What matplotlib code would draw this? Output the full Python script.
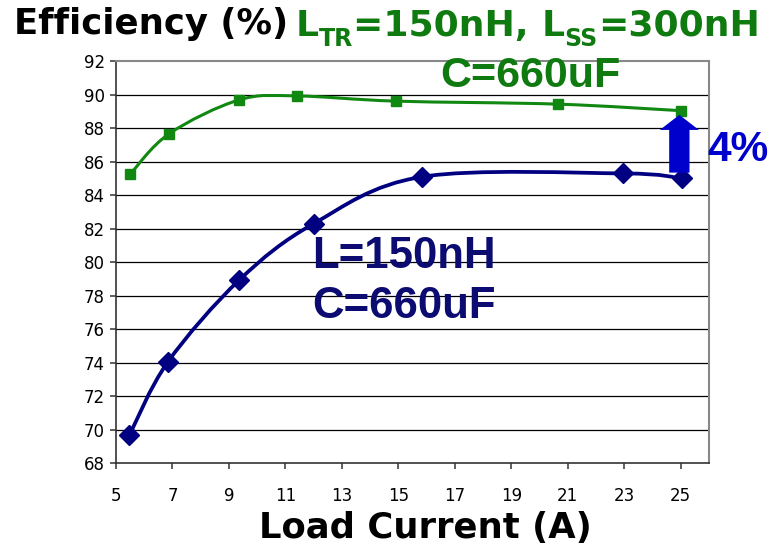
import numpy as np
import matplotlib
matplotlib.use("Agg")
import matplotlib.pyplot as plt
from matplotlib.path import Path
from matplotlib.patches import PathPatch, FancyArrow

# Efficiency vs load current
load_tr = [5.5, 6.88, 9.37, 11.42, 14.9, 20.66, 25.0]
eff_tr = [85.25, 87.67, 89.7, 89.93, 89.62, 89.44, 89.05]

load_base = [5.47, 6.83, 9.37, 12.0, 15.84, 22.97, 25.04]
eff_base = [69.65, 74.02, 78.94, 82.3, 85.1, 85.3, 85.0]

x_ticks = list(range(5, 26, 2))
y_ticks = list(range(68, 93, 2))
gap_label = "4%"

GREEN_LINE = "#118811"
GREEN_TEXT = "#0F7A0F"
NAVY_LINE = "#000080"
NAVY_TEXT = "#0B0B72"
ARROW_BLUE = "#0000CC"


def smooth_path(xs, ys):
    """Excel-style smoothed line: cubic Bezier segments with Catmull-Rom tangents."""
    pts = np.column_stack([xs, ys]).astype(float)
    n = len(pts)
    verts = [pts[0]]
    codes = [Path.MOVETO]
    for i in range(n - 1):
        p0 = pts[i - 1] if i > 0 else pts[i]
        p1 = pts[i]
        p2 = pts[i + 1]
        p3 = pts[i + 2] if i + 2 < n else pts[i + 1]
        c1 = p1 + (p2 - p0) / 6.0
        c2 = p2 - (p3 - p1) / 6.0
        verts += [c1, c2, p2]
        codes += [Path.CURVE4] * 3
    return Path(verts, codes)


W, H = 773, 556
fig = plt.figure(figsize=(W / 100, H / 100), dpi=100)
ax = fig.add_axes([116 / W, 1 - 463 / H, (709 - 116) / W, (463 - 61.3) / H])

ax.set_xlim(5, 26)
ax.set_ylim(68, 92)

# horizontal grid
for yv in y_ticks[1:-1]:
    ax.axhline(yv, color="black", lw=0.9, zorder=1)

# series: smoothed lines + markers
ax.add_patch(PathPatch(smooth_path(load_tr, eff_tr), fill=False,
                       edgecolor=GREEN_LINE, lw=2.2, zorder=3,
                       capstyle="round", joinstyle="round"))
ax.plot(load_tr, eff_tr, ls="none", marker="s", ms=7.4,
        color=GREEN_LINE, zorder=4)

ax.add_patch(PathPatch(smooth_path(load_base, eff_base), fill=False,
                       edgecolor=NAVY_LINE, lw=2.7, zorder=3,
                       capstyle="round", joinstyle="round"))
ax.plot(load_base, eff_base, ls="none", marker="D", ms=10.5,
        color=NAVY_LINE, zorder=4)

# arrow showing the efficiency gain at full load
a_bottom = eff_base[-1] + 0.35
a_top = eff_tr[-1] - 0.25
ax.add_patch(FancyArrow(24.95, a_bottom, 0, a_top - a_bottom, width=0.72,
                        head_width=1.38, head_length=0.9,
                        length_includes_head=True, color=ARROW_BLUE,
                        lw=0, zorder=5))

# frame
for side in ("top", "right"):
    ax.spines[side].set_color("#888888")
    ax.spines[side].set_linewidth(1.5)
for side in ("left", "bottom"):
    ax.spines[side].set_color("#333333")
    ax.spines[side].set_linewidth(1.2)

ax.set_xticks(x_ticks)
ax.set_yticks(y_ticks)
ax.tick_params(axis="both", direction="out", length=4.5, width=1.1,
               color="#333333", labelsize=12, labelcolor="black")
ax.tick_params(axis="x", pad=13)
ax.tick_params(axis="y", pad=3.5)
for lab in ax.get_xticklabels() + ax.get_yticklabels():
    lab.set_family("DejaVu Sans")

# headings
fig.text(14 / W, 1 - 34 / H, "Efficiency (%)", family="DejaVu Sans",
         weight="bold", fontsize=25.6, color="black", va="baseline")

# green heading with subscripts, laid out piece by piece
renderer = fig.canvas.get_renderer()
pieces = [("L", 26, 0), ("TR", 17, 10), ("=150nH, ", 26, 0),
          ("L", 26, 0), ("SS", 17, 10), ("=300nH", 26, 0)]
cursor = 296.0
base = 36.0
for s, size, drop in pieces:
    t = fig.text(cursor / W, 1 - (base + drop) / H, s, family="DejaVu Sans",
                 weight="bold", fontsize=size, color=GREEN_TEXT,
                 va="baseline", ha="left")
    bb = t.get_window_extent(renderer)
    cursor += bb.width

fig.text(530 / W, 1 - 87.3 / H, "C=660uF", family="Liberation Sans",
         weight="bold", fontsize=31, color=GREEN_TEXT, va="baseline",
         ha="center")

fig.text(312 / W, 1 - 268.3 / H, "L=150nH", family="Liberation Sans",
         weight="bold", fontsize=31.5, color=NAVY_TEXT, va="baseline")
fig.text(312 / W, 1 - 318 / H, "C=660uF", family="Liberation Sans",
         weight="bold", fontsize=31.5, color=NAVY_TEXT, va="baseline")

fig.text(707 / W, 1 - 161 / H, gap_label, family="Liberation Sans",
         weight="bold", fontsize=30.5, color=ARROW_BLUE, va="baseline")

fig.text(425 / W, 1 - 538.3 / H, "Load Current (A)", family="DejaVu Sans",
         weight="bold", fontsize=25.5, color="black", va="baseline",
         ha="center")

fig.savefig("out.png", dpi=100)
